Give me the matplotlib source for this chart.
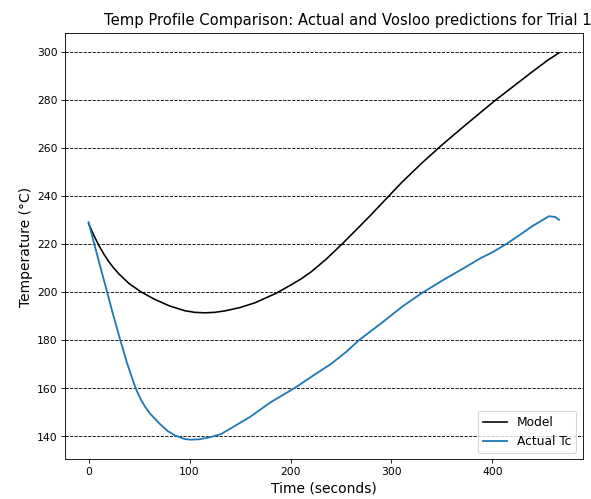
import numpy as np
import matplotlib
matplotlib.use("Agg")
import matplotlib.pyplot as plt

# model (Vosloo) prediction
t_model = np.array([0, 5, 10, 15, 20, 25, 30, 40, 52, 65, 80, 95, 105, 115, 125, 135, 150,
                    165, 186, 200, 210, 220, 235, 251, 265, 280, 296, 310, 330, 349, 370,
                    390, 403, 420, 440, 455, 466])
T_model = np.array([228.5, 223.7, 219.5, 215.8, 212.6, 209.9, 207.5, 203.5, 200, 197,
                    194.2, 192.2, 191.5, 191.3, 191.5, 192.1, 193.5, 195.5, 199.5, 202.8,
                    205.3, 208.2, 213.5, 219.9, 225.8, 232.2, 239.3, 245.5, 253.6, 260.8,
                    268.3, 275.3, 279.8, 285.3, 291.8, 296.5, 299.5])

# measured Tc
t_act = np.array([0, 4, 10, 18, 24, 31, 38, 42, 45, 48, 52, 56, 61, 70, 78, 86, 95, 101,
                  110, 120, 131, 140, 150, 160, 170, 180, 190, 204, 220, 240, 255, 268,
                  290, 311, 330, 353, 370, 388, 400, 414, 428, 440, 450, 456, 462, 466])
T_act = np.array([229, 222.5, 213, 200.5, 191, 180.5, 170.5, 165.5, 161.8, 158.6, 155, 152.2,
                  149.3, 145.3, 142.2, 140.2, 138.8, 138.5, 138.7, 139.5, 140.8, 143,
                  145.5, 148, 151, 154, 156.5, 160, 164.5, 170, 175, 180, 187, 194, 199.5,
                  205.4, 209.5, 214, 216.5, 220, 224, 227.5, 230, 231.5, 231.2, 230])

dpi = 77
fig = plt.figure(figsize=(591.5 / dpi, 499.5 / dpi), dpi=dpi)
ax = fig.add_axes([0.110, 0.080, 0.875, 0.852])

ax.plot(t_model, T_model, color='black', label='Model')
ax.plot(t_act, T_act, lw=1.7, label='Actual Tc')

ax.grid(axis='y', color='black', linestyle='--')
ax.set_xlabel('Time (seconds)', fontsize=13)
ax.set_ylabel('Temperature (°C)', fontsize=13)
ax.set_title('Temp Profile Comparison: Actual and Vosloo predictions for Trial 1',
             fontsize=13.8, x=0.547, pad=8)
ax.legend(loc='lower right', fontsize=11.5)

fig.savefig('out.png', dpi=dpi)
